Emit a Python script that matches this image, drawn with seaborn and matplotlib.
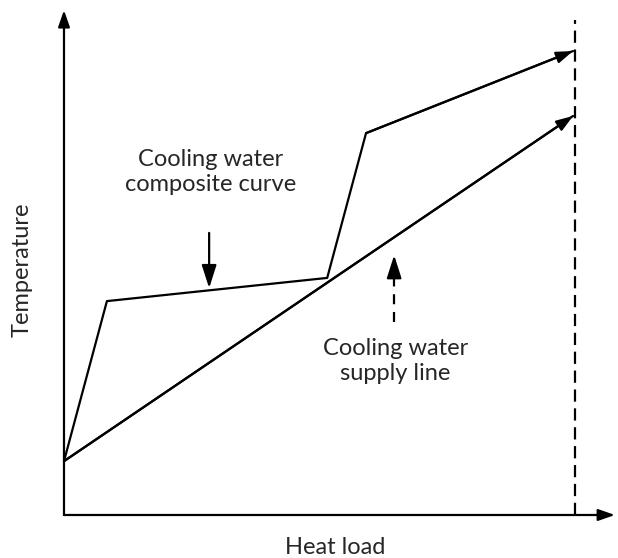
import matplotlib
matplotlib.use("Agg")
import matplotlib.pyplot as plt
import seaborn as sns
import pandas as pd

# Data (arbitrary units)
composite_x = [0, 8.4, 51.5, 59.1, 99.6]
composite_y = [11.6, 46.1, 51.1, 82.3, 100.0]
supply_x = [0, 99.6]
supply_y = [11.6, 86.0]
max_load = 100.0

x_label = "Heat load"
y_label = "Temperature"
composite_label = "Cooling water\ncomposite curve"
supply_label = "Cooling water\nsupply line"

sns.set_theme(style="white")
plt.rcParams['font.family'] = ['Lato', 'DejaVu Sans']

fig = plt.figure(figsize=(6.18, 5.58), dpi=100)
ax = fig.add_axes([0, 0, 1, 1])
ax.set_xlim(-12.52, 108.4)
ax.set_ylim(-9.27, 111.0)
ax.axis('off')

LW = 1.6
FS = 17
head_small = dict(arrowstyle='-|>,head_length=1.0,head_width=0.35', mutation_scale=10,
                  color='black', lw=LW, shrinkA=0, shrinkB=0)
head_big = dict(arrowstyle='-|>,head_length=1.0,head_width=0.32', mutation_scale=14,
                color='black', lw=LW, shrinkA=0, shrinkB=0)

# Axes with arrows
ax.annotate('', xy=(107.8, 0), xytext=(0, 0), arrowprops=head_small)
ax.annotate('', xy=(0, 108.8), xytext=(0, 0), arrowprops=head_small)

# Composite curve
df_c = pd.DataFrame({'x': composite_x, 'y': composite_y})
sns.lineplot(data=df_c, x='x', y='y', sort=False, color='black', lw=LW, ax=ax, legend=False)
ax.annotate('', xy=(composite_x[-1], composite_y[-1]),
            xytext=(composite_x[-2], composite_y[-2]), arrowprops=head_small)

# Supply line
df_s = pd.DataFrame({'x': supply_x, 'y': supply_y})
sns.lineplot(data=df_s, x='x', y='y', sort=False, color='black', lw=LW, ax=ax, legend=False)
ax.annotate('', xy=(supply_x[-1], supply_y[-1]),
            xytext=(supply_x[0], supply_y[0]), arrowprops=head_small)

# Max heat load dashed line
ax.plot([max_load, max_load], [0, 106.7], color='black', lw=LW, linestyle=(0, (5.5, 3)))

# Labels
ax.text(28.6, 73.9, composite_label, ha='center', va='center', fontsize=FS, linespacing=1.25)
ax.annotate('', xy=(28.4, 48.9), xytext=(28.4, 60.8), arrowprops=head_big)

ax.text(64.8, 33.2, supply_label, ha='center', va='center', fontsize=FS, linespacing=1.25)
ax.plot([64.6, 64.6], [41.6, 51.0], color='black', lw=LW, linestyle=(0, (4.5, 3.5)))
ax.annotate('', xy=(64.6, 56.0), xytext=(64.6, 51.5), arrowprops=head_big)

ax.text(53.0, -7.1, x_label, ha='center', va='center', fontsize=FS)
ax.text(-8.2, 52.8, y_label, ha='center', va='center', rotation=90, fontsize=FS)

fig.savefig("out.png", dpi=100, facecolor='white')
